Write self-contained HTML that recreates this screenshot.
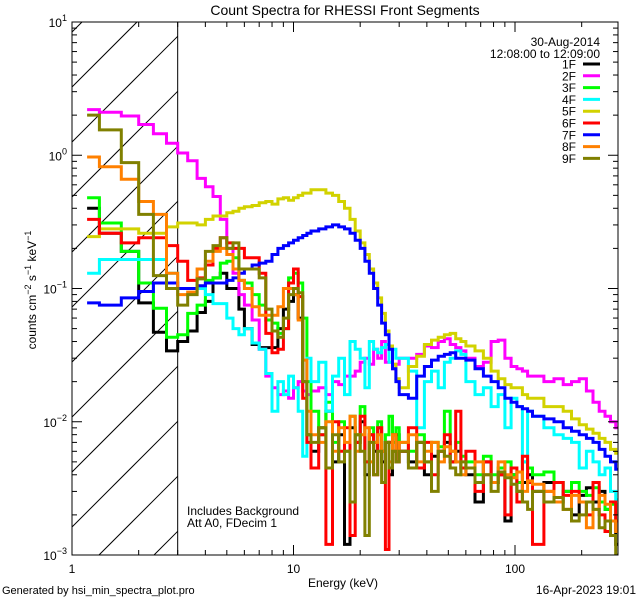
<!DOCTYPE html>
<html><head><meta charset="utf-8"><style>
html,body{margin:0;padding:0;background:#fff;width:640px;height:600px;overflow:hidden;}
svg{display:block;font-family:"Liberation Sans",sans-serif;}
</style></head><body>
<svg id="chart" width="640" height="600" viewBox="0 0 640 600" xmlns="http://www.w3.org/2000/svg">
<rect x="0" y="0" width="640" height="600" fill="#fff"/>
<text x="345" y="15" font-size="14" text-anchor="middle">Count Spectra for RHESSI Front Segments</text>
<g id="hatch"></g>
<g id="series"></g>
<g id="axes"></g>
<g id="legend"></g>
<text x="187" y="515" font-size="12">Includes Background</text>
<text x="187" y="527" font-size="12">Att A0, FDecim 1</text>
<text x="343" y="587" font-size="12" text-anchor="middle">Energy (keV)</text>
<text transform="translate(36,290) rotate(-90)" font-size="12" text-anchor="middle">counts cm<tspan dy="-5" font-size="9">−2</tspan><tspan dy="5"> s</tspan><tspan dy="-5" font-size="9">−1</tspan><tspan dy="5"> keV</tspan><tspan dy="-5" font-size="9">−1</tspan></text>
<text x="2" y="594" font-size="11">Generated by hsi_min_spectra_plot.pro</text>
<text x="636" y="594" font-size="12" text-anchor="end">16-Apr-2023 19:01</text>
</svg>
<script>
const edges=[1.17,1.33,1.67,2,2.33,2.67,3,3.33,3.67,4,4.33,4.67,5,5.33,5.67,6,
6.5,7,7.5,8,8.5,9,9.5,10,10.5,11,11.5,12,
13,14,15,16,17,18,19,20,21,22,23,24,25,26,27,28,29,30,
33,36,39,42,45,48,51,54,57,60,
66,72,78,84,90,96,102,108,114,120,
135,150,165,180,195,210,225,240,255,270,285,292];
const seriesNames=["1F","2F","3F","4F","5F","6F","7F","8F","9F"];
const xTickLabels=["1","10","100"];
const yTickExps=["0","−1","−2","−3"];
const s1F=[0.4,0.26,0.19,0.078,0.047,0.034,0.04,0.048,0.066,0.08,0.12,0.13,0.1,0.1,0.07,
0.05,0.038,0.036,0.036,0.036,0.05,0.07,0.08,0.09,0.06,0.02,0.008,
0.006,0.009,0.012,0.005,0.008,0.0012,0.009,0.007,0.01,0.004,0.008,0.006,0.009,0.005,0.007,0.004,0.006,0.008,
0.006,0.005,0.007,0.004,0.0055,0.006,0.007,0.005,0.006,0.0045,
0.004,0.0025,0.005,0.0035,0.004,0.0018,0.004,0.003,0.0035,0.004,
0.003,0.0035,0.0025,0.003,0.002,0.0028,0.0032,0.0025,0.003,0.0022,0.0018,0.0012];
const s2F=[2.2,2.1,1.97,1.7,1.45,1.23,1.04,0.91,0.67,0.58,0.49,0.33,0.2,0.13,0.09,
0.075,0.058,0.035,0.022,0.018,0.016,0.017,0.015,0.018,0.02,0.017,0.016,
0.017,0.018,0.016,0.02,0.019,0.022,0.022,0.024,0.028,0.03,0.027,0.035,0.03,0.04,0.028,0.028,0.025,0.027,
0.03,0.03,0.032,0.037,0.036,0.04,0.042,0.038,0.036,0.034,
0.03,0.026,0.028,0.04,0.041,0.03,0.026,0.025,0.024,0.022,
0.022,0.02,0.021,0.019,0.02,0.021,0.017,0.014,0.012,0.011,0.01,0.009];
const s3F=[0.48,0.31,0.19,0.11,0.071,0.043,0.045,0.065,0.075,0.115,0.12,0.155,0.16,0.17,0.115,
0.11,0.09,0.075,0.058,0.055,0.046,0.05,0.12,0.13,0.11,0.06,0.02,
0.012,0.008,0.014,0.007,0.01,0.006,0.011,0.008,0.013,0.005,0.009,0.007,0.01,0.006,0.008,0.011,0.007,0.009,
0.007,0.006,0.008,0.005,0.007,0.0065,0.012,0.006,0.007,0.0055,
0.005,0.004,0.0055,0.004,0.0045,0.005,0.004,0.0035,0.005,0.0045,
0.004,0.0042,0.0035,0.003,0.0035,0.003,0.0028,0.0032,0.0025,0.0022,0.0024,0.0018];
const s4F=[0.13,0.165,0.165,0.165,0.165,0.13,0.1,0.1,0.1,0.09,0.077,0.077,0.06,0.05,0.045,
0.05,0.039,0.035,0.023,0.012,0.02,0.016,0.022,0.018,0.012,0.0055,0.03,
0.02,0.028,0.012,0.022,0.03,0.016,0.04,0.035,0.03,0.018,0.04,0.035,0.033,0.036,0.038,0.028,0.035,0.03,
0.03,0.024,0.009,0.02,0.024,0.018,0.028,0.03,0.034,0.032,
0.02,0.016,0.018,0.013,0.016,0.009,0.015,0.013,0.005,0.012,
0.011,0.009,0.008,0.0075,0.007,0.0045,0.006,0.005,0.004,0.0045,0.003,0.0026];
const s5F=[0.245,0.28,0.28,0.26,0.26,0.29,0.31,0.31,0.3,0.33,0.35,0.35,0.37,0.38,0.4,
0.41,0.42,0.44,0.45,0.43,0.47,0.48,0.46,0.48,0.5,0.52,0.52,
0.55,0.55,0.52,0.5,0.45,0.4,0.33,0.27,0.22,0.18,0.14,0.11,0.085,0.065,0.048,0.037,0.027,0.021,
0.018,0.026,0.031,0.038,0.041,0.043,0.045,0.046,0.042,0.04,
0.037,0.034,0.03,0.024,0.021,0.019,0.018,0.018,0.016,0.015,
0.015,0.013,0.013,0.012,0.0105,0.0095,0.0088,0.0082,0.0075,0.007,0.0062,0.0058];
const s6F=[0.33,0.26,0.22,0.24,0.24,0.21,0.16,0.115,0.12,0.15,0.2,0.24,0.22,0.2,0.2,
0.17,0.17,0.13,0.046,0.033,0.035,0.05,0.11,0.14,0.087,0.015,0.007,
0.0045,0.008,0.0012,0.01,0.006,0.009,0.0014,0.007,0.011,0.005,0.008,0.004,0.009,0.006,0.0011,0.007,0.008,0.005,
0.006,0.009,0.0045,0.007,0.004,0.006,0.008,0.005,0.012,0.0045,
0.006,0.003,0.005,0.0035,0.004,0.002,0.0045,0.0025,0.0055,0.0035,
0.0012,0.003,0.0035,0.0028,0.003,0.0025,0.002,0.0035,0.002,0.0015,0.0025,0.0018];
const s7F=[0.078,0.075,0.085,0.095,0.11,0.11,0.1,0.1,0.105,0.11,0.11,0.11,0.115,0.12,0.13,
0.14,0.15,0.155,0.16,0.18,0.2,0.21,0.22,0.23,0.24,0.25,0.26,
0.27,0.28,0.29,0.3,0.29,0.28,0.26,0.23,0.2,0.16,0.13,0.1,0.075,0.055,0.045,0.035,0.025,0.02,
0.016,0.015,0.022,0.026,0.029,0.031,0.032,0.033,0.03,0.03,
0.029,0.025,0.022,0.02,0.018,0.015,0.014,0.013,0.0125,0.012,
0.011,0.0105,0.01,0.009,0.0085,0.008,0.0075,0.007,0.0062,0.0055,0.005,0.0044];
const s8F=[0.97,0.82,0.66,0.45,0.36,0.13,0.09,0.094,0.14,0.16,0.19,0.2,0.18,0.14,0.115,
0.1,0.073,0.063,0.063,0.063,0.073,0.1,0.1,0.09,0.058,0.029,0.012,
0.008,0.007,0.01,0.006,0.009,0.007,0.011,0.006,0.008,0.009,0.005,0.007,0.008,0.006,0.007,0.005,0.008,0.006,
0.007,0.008,0.005,0.006,0.007,0.005,0.0065,0.006,0.005,0.004,
0.0045,0.005,0.004,0.0035,0.005,0.004,0.0038,0.0042,0.003,0.0036,
0.0034,0.003,0.0025,0.0022,0.0028,0.0025,0.0016,0.0022,0.0028,0.0024,0.0018,0.0015];
const s9F=[2.0,1.55,0.88,0.36,0.125,0.1,0.075,0.09,0.118,0.19,0.21,0.24,0.2,0.22,0.14,
0.14,0.14,0.12,0.07,0.048,0.043,0.06,0.09,0.1,0.093,0.02,0.008,
0.007,0.009,0.0045,0.008,0.005,0.006,0.0025,0.008,0.006,0.0014,0.007,0.004,0.006,0.0035,0.007,0.0045,0.006,0.005,
0.006,0.0045,0.007,0.005,0.003,0.006,0.0055,0.0045,0.004,0.005,
0.0045,0.0035,0.004,0.003,0.0042,0.0038,0.0034,0.003,0.0025,0.0022,
0.003,0.0025,0.0027,0.0022,0.0018,0.002,0.0025,0.0022,0.0016,0.0018,0.0014,0.001];
const seriesData=[s1F,s2F,s3F,s4F,s5F,s6F,s7F,s8F,s9F];
const colors=["#000000","#ff00ff","#00ff00","#00ffff","#d2d200","#ff0000","#0000ff","#ff8000","#808000"];

const NS="http://www.w3.org/2000/svg";
const L=72,R=618,T=22,B=555,DEC=221.5;
const YDEC=(B-T)/4;
function xs(e){return L+Math.log10(e)*DEC;}
function ys(v){let l=Math.log10(Math.max(v,1e-3));l=Math.min(l,1);return T+(1-l)*YDEC;}
function mk(tag,attrs,parent){const el=document.createElementNS(NS,tag);for(const k in attrs)el.setAttribute(k,attrs[k]);parent.appendChild(el);return el;}

const defs=mk("defs",{},document.getElementById("chart"));
const cp=mk("clipPath",{id:"plotclip"},defs);
mk("rect",{x:L,y:T,width:R-L,height:B-T},cp);

const hg=document.getElementById("hatch");
const X3=xs(3);
for(let c=T+10;c<B+(X3-L);c+=55){
  // line: y = c - (x - L)
  const xa=L+Math.max(0,c-B), xb=Math.min(X3,L+c-T);
  if(xb<=xa)continue;
  const ln=mk("line",{x1:xa,y1:c-(xa-L),x2:xb,y2:c-(xb-L),stroke:"#000","stroke-width":1},hg);
  
  
}
const bl=mk("line",{x1:X3,y1:T,x2:X3,y2:B,stroke:"#000","stroke-width":1},hg);



const sg=document.getElementById("series");
sg.setAttribute("clip-path","url(#plotclip)");
seriesData.forEach((vals,i)=>{
  let d="";
  for(let k=0;k<vals.length;k++){
    const x0=xs(edges[k]),x1=xs(edges[k+1]),y=ys(vals[k]);
    d+=(k===0?"M":"L")+x0.toFixed(1)+","+y.toFixed(1)+"L"+x1.toFixed(1)+","+y.toFixed(1);
  }
  const p=mk("path",{d:d,fill:"none",stroke:colors[i],"stroke-width":3,"stroke-linejoin":"miter"},sg);
  
  
});

const ag=document.getElementById("axes");
const box=mk("rect",{x:L,y:T,width:R-L,height:B-T,fill:"none",stroke:"#000","stroke-width":1},ag);


for(let dec=0;dec<3;dec++){
  for(let m=1;m<10;m++){
    const e=Math.pow(10,dec)*m;
    const x=xs(e);
    if(x>R)break;
    const len=m===1?10:5;
    const t1=mk("line",{x1:x,y1:B,x2:x,y2:B-len,stroke:"#000"},ag);
    
    
    const t2=mk("line",{x1:x,y1:T,x2:x,y2:T+len,stroke:"#000"},ag);
    
    
  }
}
xTickLabels.forEach((lab,i)=>{
  const t=mk("text",{x:xs(Math.pow(10,i)),y:B+18,"font-size":12,"text-anchor":"middle"},ag);
  t.textContent=lab;
  
  
});
for(let dec=-3;dec<1;dec++){
  for(let m=1;m<10;m++){
    const v=Math.pow(10,dec)*m;
    const y=ys(v);
    const len=m===1?10:5;
    const t1=mk("line",{x1:L,y1:y,x2:L+len,y2:y,stroke:"#000"},ag);
    
    
    const t2=mk("line",{x1:R,y1:y,x2:R-len,y2:y,stroke:"#000"},ag);
    
    
  }
}
const yLabs=["1"].concat(yTickExps);
yLabs.forEach((ex,i)=>{
  const y=T+i*YDEC;
  const t=mk("text",{x:L-5,y:y+5,"font-size":12,"text-anchor":"end"},ag);
  
  
  const a=document.createElementNS(NS,"tspan");a.textContent="10";t.appendChild(a);
  const b=document.createElementNS(NS,"tspan");b.setAttribute("dy","-6");b.setAttribute("font-size","9");b.textContent=ex;t.appendChild(b);
});

const lg=document.getElementById("legend");
const d1=mk("text",{x:600,y:46,"font-size":12,"text-anchor":"end"},lg);
d1.textContent="30-Aug-2014";


const d2=mk("text",{x:600,y:58,"font-size":12,"text-anchor":"end"},lg);
d2.textContent="12:08:00 to 12:09:00";


seriesNames.forEach((n,i)=>{
  const y=64+i*11.8;
  const t=mk("text",{x:576,y:y+4.5,"font-size":12,"text-anchor":"end"},lg);
  t.textContent=n;
  
  
  const l=mk("line",{x1:583,y1:y,x2:600,y2:y,stroke:colors[i],"stroke-width":3},lg);
  
  
});
</script>
</body></html>
